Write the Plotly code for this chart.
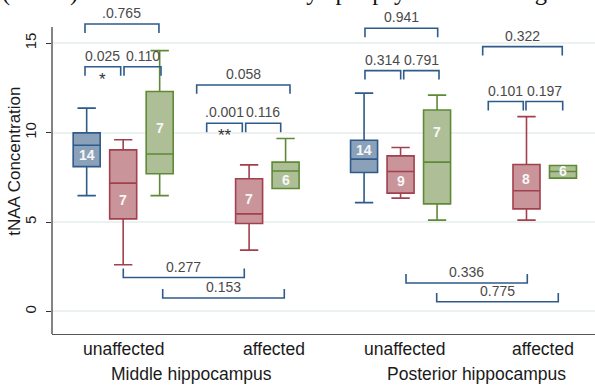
import plotly.graph_objects as go

# ---------------- data ----------------
# box order: Middle-unaffected (blue, red, green), Middle-affected (red, green),
#            Posterior-unaffected (blue, red, green), Posterior-affected (red, green)
box_group = ["mid_un", "mid_un", "mid_un", "mid_af", "mid_af",
             "post_un", "post_un", "post_un", "post_af", "post_af"]
box_series = ["blue", "red", "green", "red", "green",
              "blue", "red", "green", "red", "green"]
box_lower = [6.48, 2.61, 6.48, 3.43, 6.88, 6.09, 6.34, 5.11, 5.11, 7.46]
box_q1 = [8.10, 5.18, 7.70, 4.92, 6.88, 7.77, 6.62, 6.02, 5.74, 7.46]
box_median = [9.30, 7.18, 8.81, 5.46, 7.86, 8.52, 7.83, 8.35, 6.75, 7.83]
box_q3 = [9.99, 9.04, 12.30, 7.42, 8.35, 9.58, 8.70, 11.27, 8.22, 8.16]
box_upper = [11.37, 9.60, 14.59, 8.20, 9.67, 12.21, 9.17, 12.10, 10.90, 8.16]
box_n = ["14", "7", "7", "7", "6", "14", "9", "7", "8", "6"]
box_n_y = [8.76, 6.24, 10.25, 6.30, 7.36, 9.04, 7.27, 10.06, 7.42, 7.83]

group_center = {"mid_un": 1.95, "mid_af": 5.4, "post_un": 9.55, "post_af": 13.0}
series_offset = {"blue": -1.0, "red": 0.0, "green": 1.0}

category_labels = ["unaffected", "affected", "unaffected", "affected"]
category_label_x = [1.95, 6.08, 9.67, 13.45]
region_labels = ["Middle hippocampus", "Posterior hippocampus"]
region_label_x = [3.81, 11.62]

# comparison brackets: x0, x1, y (horizontal line), direction (-1 legs down, +1 legs up), p-value text
br_x0 = [0.904, 0.904, 1.973, 3.964, 4.238, 5.307, 8.575, 8.575, 9.636, 11.80, 11.953, 12.986,
         1.953, 3.033, 9.699, 10.54]
br_x1 = [2.93, 1.882, 2.986, 6.52, 5.214, 6.266, 10.567, 9.553, 10.603, 13.98, 12.912, 13.992,
         5.268, 6.364, 13.022, 13.871]
br_y = [16.08, 13.69, 13.69, 12.67, 10.53, 10.53, 15.84, 13.47, 13.47, 14.81, 11.74, 11.74,
        1.90, 0.75, 1.59, 0.54]
br_dir = [-1, -1, -1, -1, -1, -1, -1, -1, -1, -1, -1, -1, 1, 1, 1, 1]
br_label = [".0.765", "0.025", "0.110", "0.058", ".0.001", "0.116", "0.941", "0.314", "0.791",
            "0.322", "0.101", "0.197", "0.277", "0.153", "0.336", "0.775"]
br_star = ["", "*", "", "", "**", "", "", "", "", "", "", "", "", "", "", ""]

y_ticks = [0, 5, 10, 15]

# ---------------- styles ----------------
fill = {"blue": "#8ba1b9", "red": "#c9959b", "green": "#aebf97"}
edge = {"blue": "#2e5b8a", "red": "#a3404d", "green": "#5e8a35"}
bracket_color = "#2e5b8a"
FONT = "Liberation Sans, Arial, sans-serif"
PLOT_H = 334.0

fig = go.Figure()

for i in range(len(box_q1)):
    s = box_series[i]
    xpos = group_center[box_group[i]] + series_offset[s]
    fig.add_trace(go.Box(
        x=[xpos], q1=[box_q1[i]], median=[box_median[i]], q3=[box_q3[i]],
        lowerfence=[box_lower[i]], upperfence=[box_upper[i]],
        width=0.74, whiskerwidth=0.68, boxpoints=False,
        fillcolor=fill[s], line=dict(color=edge[s], width=1.6),
        showlegend=False, hoverinfo="skip"))
    fig.add_annotation(x=xpos, y=box_n_y[i], text="<b>%s</b>" % box_n[i], showarrow=False,
                       font=dict(family=FONT, size=14, color="#f7f7f7"))

shapes = []
leg = 0.5
for i in range(len(br_x0)):
    x0, x1, y, d = br_x0[i], br_x1[i], br_y[i], br_dir[i]
    yl = y + d * leg
    shapes.append(dict(type="path", xref="x", yref="y",
                       path="M %f %f L %f %f L %f %f L %f %f" % (x0, yl, x0, y, x1, y, x1, yl),
                       line=dict(color=bracket_color, width=1.6)))
    xm = (x0 + x1) / 2
    fig.add_annotation(x=xm, y=y, text=br_label[i], showarrow=False, yanchor="bottom", yshift=1,
                       font=dict(family=FONT, size=14, color="#4a4a4a"))
    if br_star[i]:
        fig.add_annotation(x=xm, y=y, text=br_star[i], showarrow=False, yanchor="top", yshift=-1,
                           font=dict(family=FONT, size=17, color="#333333"))

# y axis line (only over the plot region)
shapes.append(dict(type="line", xref="paper", yref="y", x0=0, x1=0, y0=-1.26, y1=15.91,
                   line=dict(color="#333333", width=1.2)))
fig.update_layout(shapes=shapes)

for lab, x in zip(category_labels, category_label_x):
    fig.add_annotation(x=x, yref="paper", y=-15 / PLOT_H, text=lab, showarrow=False,
                       yanchor="middle",
                       font=dict(family=FONT, size=17.5, color="#1a1a1a"))
for lab, x in zip(region_labels, region_label_x):
    fig.add_annotation(x=x, yref="paper", y=-40 / PLOT_H, text=lab, showarrow=False,
                       yanchor="middle",
                       font=dict(family=FONT, size=17.5, color="#1a1a1a"))

# y axis title
fig.add_annotation(xref="paper", x=-37 / 543, xanchor="center", yref="y", y=8.37,
                   yanchor="middle", text="tNAA Concentration",
                   textangle=-90, showarrow=False,
                   font=dict(family=FONT, size=17, color="#1a1a1a"))

# clipped document text at the very top
fig.add_annotation(xref="paper", x=-52 / 543, xanchor="left", yref="paper", y=1 - 8 / PLOT_H,
                   yanchor="bottom",
                   text="(MRSI) have been used to study epilepsy at field strengths of",
                   showarrow=False, font=dict(family="Liberation Serif, Times New Roman, serif",
                                              size=24.5, color="#111111"))

fig.update_layout(
    width=595, height=388,
    margin=dict(l=52, r=0, t=0, b=54),
    paper_bgcolor="white", plot_bgcolor="white",
    xaxis=dict(range=[0, 14.877], showticklabels=False, ticks="", showgrid=False,
               zeroline=False, showline=True, linecolor="#555555", linewidth=1.2),
    yaxis=dict(range=[-1.26, 17.42], tickvals=y_ticks, ticktext=[str(v) for v in y_ticks],
               tickangle=-90, ticks="outside", ticklen=5, tickcolor="#333333",
               ticklabelstandoff=4,
               tickfont=dict(family=FONT, size=15, color="#1a1a1a"),
               showgrid=True, gridcolor="#ecf1f1", gridwidth=1.5, zeroline=False,
               showline=False),
)

fig.write_html("out.html", post_script="document.body.style.margin='0';",
               config={"displayModeBar": False})
